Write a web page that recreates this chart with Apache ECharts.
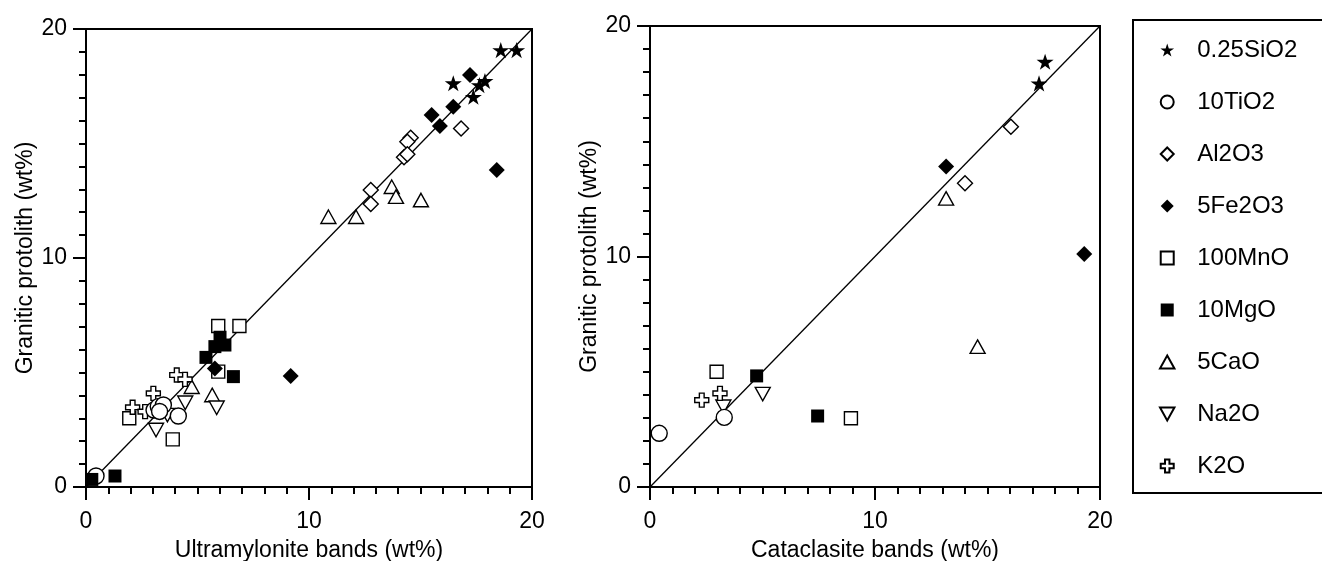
<!DOCTYPE html>
<html>
<head>
<meta charset="utf-8">
<script src="https://cdn.jsdelivr.net/npm/echarts@6/dist/echarts.min.js"></script>
<style>
  html, body { margin: 0; padding: 0; background: #fff; }
  #chart { width: 1322px; height: 561px; }
</style>
</head>
<body>
<div id="chart"></div>
<script>
// legend names (same order as the legend box)
const oxideNames = ["0.25SiO2", "10TiO2", "Al2O3", "5Fe2O3", "100MnO", "10MgO", "5CaO", "Na2O", "K2O"];

const axisTicks = [0, 10, 20];

// ultramylonite bands (x) vs granitic protolith (y), wt%
const ultraSiO2 = [[18.6, 19.08], [19.31, 19.08], [16.47, 17.63], [17.64, 17.55], [17.89, 17.73], [17.37, 17.04]];
const ultraTiO2 = [[0.45, 0.48], [4.14, 3.10], [3.05, 3.36], [3.24, 3.51], [3.47, 3.58], [3.3, 3.3]];
const ultraAl2O3 = [[16.82, 15.66], [14.56, 15.25], [14.41, 15.08], [14.26, 14.40], [14.41, 14.53], [12.77, 12.97], [12.77, 12.36]];
const ultraFe2O3 = [[17.22, 17.99], [16.47, 16.61], [15.50, 16.24], [15.87, 15.76], [18.42, 13.84], [5.78, 5.18], [9.18, 4.85]];
const ultraMnO = [[5.93, 7.03], [6.88, 7.03], [3.89, 2.08], [1.94, 3.0], [5.93, 5.04]];
const ultraMgO = [[6.01, 6.54], [6.23, 6.20], [5.78, 6.13], [5.38, 5.66], [6.61, 4.82], [1.30, 0.48], [0.26, 0.33]];
const ultraCaO = [[10.87, 11.80], [12.11, 11.80], [13.71, 13.11], [13.90, 12.68], [15.02, 12.53], [4.74, 4.38], [5.66, 4.02]];
const ultraNa2O = [[4.45, 3.68], [5.86, 3.46], [3.14, 2.49], [3.65, 3.14]];
const ultraK2O = [[4.07, 4.89], [4.44, 4.70], [3.02, 4.09], [2.09, 3.48], [2.65, 3.29]];

// cataclasite bands (x) vs granitic protolith (y), wt%
const cataSiO2 = [[17.56, 18.45], [17.29, 17.51]];
const cataTiO2 = [[3.30, 3.02], [0.41, 2.33]];
const cataAl2O3 = [[16.04, 15.63], [14.0, 13.18]];
const cataFe2O3 = [[13.16, 13.90], [19.30, 10.11]];
const cataMnO = [[2.96, 5.0], [8.93, 2.98]];
const cataMgO = [[4.74, 4.82], [7.45, 3.08]];
const cataCaO = [[13.16, 12.52], [14.56, 6.09]];
const cataNa2O = [[5.01, 4.03], [3.26, 3.48]];
const cataK2O = [[2.30, 3.77], [3.11, 4.06]];

// 1:1 reference line
const oneToOne = [[0, 0], [20, 20]];

const ultraData = {
    "0.25SiO2": ultraSiO2, "10TiO2": ultraTiO2, "Al2O3": ultraAl2O3, "5Fe2O3": ultraFe2O3,
    "100MnO": ultraMnO, "10MgO": ultraMgO, "5CaO": ultraCaO, "Na2O": ultraNa2O, "K2O": ultraK2O
};
const cataData = {
    "0.25SiO2": cataSiO2, "10TiO2": cataTiO2, "Al2O3": cataAl2O3, "5Fe2O3": cataFe2O3,
    "100MnO": cataMnO, "10MgO": cataMgO, "5CaO": cataCaO, "Na2O": cataNa2O, "K2O": cataK2O
};

// === marker shapes ===
const STAR = "path://M10,0 L12.25,6.91 L19.51,6.91 L13.63,11.18 L15.88,18.09 L10,13.82 L4.12,18.09 L6.37,11.18 L0.49,6.91 L7.75,6.91 Z";
const DOWN_TRI = "path://M0,0 L10,0 L5,9 Z";
const UP_TRI = "path://M5,0 L10,9 L0,9 Z";
const DIAMOND = "path://M5,0 L10,5 L5,10 L0,5 Z";
const SQUARE = "path://M0,0 L10,0 L10,10 L0,10 Z";
const CROSS = "path://M3.3,0 L6.7,0 L6.7,3.3 L10,3.3 L10,6.7 L6.7,6.7 L6.7,10 L3.3,10 L3.3,6.7 L0,6.7 L0,3.3 L3.3,3.3 Z";

const markerStyle = {
    "0.25SiO2": { symbol: STAR, size: 17, filled: true },
    "10TiO2": { symbol: "circle", size: 16, filled: false },
    "Al2O3": { symbol: DIAMOND, size: 15, filled: false },
    "5Fe2O3": { symbol: DIAMOND, size: 16, filled: true },
    "100MnO": { symbol: SQUARE, size: 13, filled: false },
    "10MgO": { symbol: SQUARE, size: 13, filled: true },
    "5CaO": { symbol: UP_TRI, size: 15, filled: false },
    "Na2O": { symbol: DOWN_TRI, size: 15, filled: false },
    "K2O": { symbol: CROSS, size: 14, filled: false },
};

// draw order: open symbols first, filled ones on top
const drawOrder = ["100MnO", "Al2O3", "5CaO", "Na2O", "K2O", "10TiO2", "10MgO", "5Fe2O3", "0.25SiO2"];

const FONT = "Liberation Sans";

function makeXAxis(gridIndex, name) {
    return {
        gridIndex: gridIndex,
        type: "value",
        min: 0, max: 20, interval: 10,
        name: name,
        nameLocation: "middle",
        nameGap: 52,
        nameTextStyle: { color: "#000", fontSize: 23, fontFamily: FONT },
        axisLine: { show: true, onZero: false, lineStyle: { color: "#000", width: 2 } },
        axisTick: { show: true, inside: false, length: 13, lineStyle: { color: "#000", width: 2 } },
        minorTick: { show: true, splitNumber: 10, length: 7, lineStyle: { color: "#000", width: 2 } },
        axisLabel: {
            color: "#000", fontSize: 23, fontFamily: FONT, margin: 23,
            formatter: v => axisTicks.includes(v) ? String(v) : ""
        },
        splitLine: { show: false },
    };
}

function makeYAxis(gridIndex, name) {
    return {
        gridIndex: gridIndex,
        type: "value",
        min: 0, max: 20, interval: 10,
        name: name,
        nameLocation: "middle",
        nameGap: 48,
        nameTextStyle: { color: "#000", fontSize: 23, fontFamily: FONT },
        axisLine: { show: true, onZero: false, lineStyle: { color: "#000", width: 2 } },
        axisTick: { show: true, inside: false, length: 13, lineStyle: { color: "#000", width: 2 } },
        minorTick: { show: true, splitNumber: 10, length: 7, lineStyle: { color: "#000", width: 2 } },
        axisLabel: {
            color: "#000", fontSize: 23, fontFamily: FONT, margin: 19,
            formatter: v => axisTicks.includes(v) ? String(v) : ""
        },
        splitLine: { show: false },
    };
}

function scatterSeries(name, data, idx) {
    const st = markerStyle[name];
    return {
        name: name,
        type: "scatter",
        xAxisIndex: idx,
        yAxisIndex: idx,
        data: data,
        symbol: st.symbol,
        symbolSize: st.size,
        symbolKeepAspect: true,
        itemStyle: {
            color: st.filled ? "#000" : "#fff",
            borderColor: "#000",
            borderWidth: st.filled ? 0 : 1.4,
            opacity: 1,
        },
        emphasis: { disabled: true },
        z: 3,
    };
}

const series = [];
[0, 1].forEach(idx => {
    series.push({
        type: "line",
        xAxisIndex: idx,
        yAxisIndex: idx,
        data: oneToOne,
        symbol: "none",
        lineStyle: { color: "#000", width: 1.3 },
        silent: true,
        z: 2,
    });
    const src = idx === 0 ? ultraData : cataData;
    drawOrder.forEach(name => series.push(scatterSeries(name, src[name], idx)));
});

const chart = echarts.init(document.getElementById("chart"), null, { renderer: "canvas" });

const option = {
    backgroundColor: "#fff",
    animation: false,
    textStyle: { fontFamily: FONT },
    grid: [
        { left: 86, top: 29, width: 446, height: 458, outerBoundsMode: "none", show: true, borderColor: "#000", borderWidth: 2, backgroundColor: "transparent" },
        { left: 650, top: 26, width: 450, height: 461, outerBoundsMode: "none", show: true, borderColor: "#000", borderWidth: 2, backgroundColor: "transparent" },
    ],
    xAxis: [makeXAxis(0, "Ultramylonite bands (wt%)"), makeXAxis(1, "Cataclasite bands (wt%)")],
    yAxis: [makeYAxis(0, "Granitic protolith (wt%)"), makeYAxis(1, "Granitic protolith (wt%)")],
    legend: {
        data: oxideNames,
        orient: "vertical",
        left: 1133,
        top: 20,
        padding: [18, 40, 15, 26],
        itemWidth: 50,
        itemHeight: 13,
        itemGap: 28,
        selectedMode: false,
        borderColor: "#000",
        borderWidth: 2,
        backgroundColor: "#fff",
        textStyle: { color: "#000", fontSize: 24, fontFamily: FONT, lineHeight: 24 },
    },
    series: series,
};

chart.setOption(option);
</script>
</body>
</html>
